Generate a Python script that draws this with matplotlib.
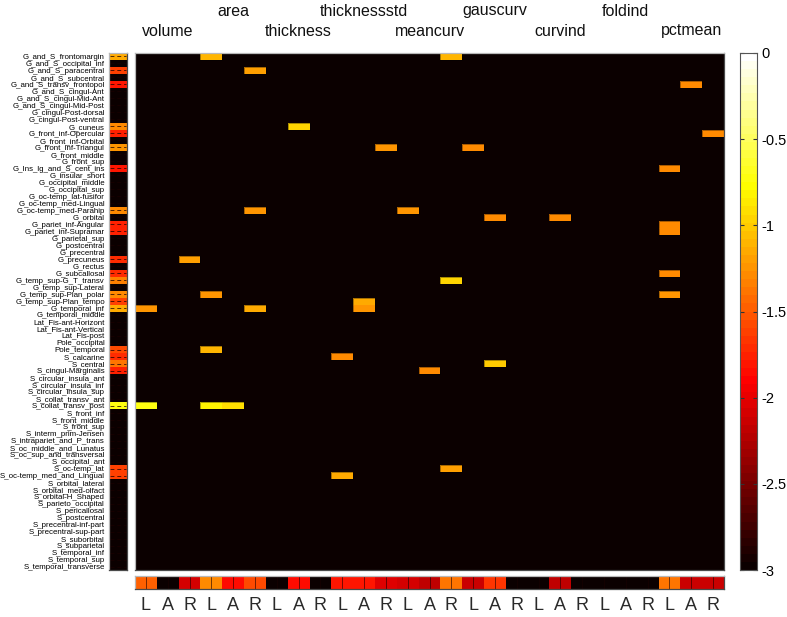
import numpy as np
import matplotlib
matplotlib.use("Agg")
import matplotlib.pyplot as plt
from matplotlib.colors import Normalize
from matplotlib.collections import LineCollection

plt.rcParams['font.family'] = ['Liberation Sans', 'DejaVu Sans']

regions = [
    "G_and_S_frontomargin", "G_and_S_occipital_inf", "G_and_S_paracentral", "G_and_S_subcentral",
    "G_and_S_transv_frontopol", "G_and_S_cingul-Ant", "G_and_S_cingul-Mid-Ant", "G_and_S_cingul-Mid-Post",
    "G_cingul-Post-dorsal", "G_cingul-Post-ventral", "G_cuneus", "G_front_inf-Opercular",
    "G_front_inf-Orbital", "G_front_inf-Triangul", "G_front_middle", "G_front_sup",
    "G_Ins_lg_and_S_cent_ins", "G_insular_short", "G_occipital_middle", "G_occipital_sup",
    "G_oc-temp_lat-fusifor", "G_oc-temp_med-Lingual", "G_oc-temp_med-Parahip", "G_orbital",
    "G_pariet_inf-Angular", "G_pariet_inf-Supramar", "G_parietal_sup", "G_postcentral",
    "G_precentral", "G_precuneus", "G_rectus", "G_subcallosal",
    "G_temp_sup-G_T_transv", "G_temp_sup-Lateral", "G_temp_sup-Plan_polar", "G_temp_sup-Plan_tempo",
    "G_temporal_inf", "G_temporal_middle", "Lat_Fis-ant-Horizont", "Lat_Fis-ant-Vertical",
    "Lat_Fis-post", "Pole_occipital", "Pole_temporal", "S_calcarine",
    "S_central", "S_cingul-Marginalis", "S_circular_insula_ant", "S_circular_insula_inf",
    "S_circular_insula_sup", "S_collat_transv_ant", "S_collat_transv_post", "S_front_inf",
    "S_front_middle", "S_front_sup", "S_interm_prim-Jensen", "S_intrapariet_and_P_trans",
    "S_oc_middle_and_Lunatus", "S_oc_sup_and_transversal", "S_occipital_ant", "S_oc-temp_lat",
    "S_oc-temp_med_and_Lingual", "S_orbital_lateral", "S_orbital_med-olfact", "S_orbital-H_Shaped",
    "S_parieto_occipital", "S_pericallosal", "S_postcentral", "S_precentral-inf-part",
    "S_precentral-sup-part", "S_suborbital", "S_subparietal", "S_temporal_inf",
    "S_temporal_sup", "S_temporal_transverse",
]

measures = ["volume", "area", "thickness", "thicknessstd", "meancurv",
            "gauscurv", "curvind", "foldind", "pctmean"]
hemis = ["L", "A", "R"]

floor_value = -3.0

# significant cells of the main matrix: (row index, column index, value)
hit_rows = [0, 0, 2, 4, 10, 11, 13, 13, 16, 22, 22, 23, 23, 24, 25,
            29, 31, 32, 34, 34, 35, 36, 36, 36, 42, 43, 44, 45, 50, 50, 50, 59, 60]
hit_cols = [3, 14, 5, 25, 7, 26, 11, 15, 24, 5, 12, 16, 19, 24, 24,
            2, 24, 14, 3, 24, 10, 10, 0, 5, 3, 9, 16, 13, 0, 3, 4, 14, 9]
hit_vals = [-1.1, -1.1, -1.2, -1.28, -0.97, -1.28, -1.25, -1.28, -1.28, -1.25, -1.25, -1.28, -1.28, -1.28, -1.28,
            -1.2, -1.28, -0.95, -1.25, -1.22, -1.15, -1.22, -1.25, -1.15, -1.08, -1.28, -1.0, -1.28,
            -0.75, -0.8, -0.9, -1.2, -1.15]

# left summary strip (per region)
row_summary = {0: -1.15, 2: -1.6, 4: -1.8, 10: -1.3, 11: -1.75, 13: -1.25, 16: -1.8,
               22: -1.3, 24: -1.75, 25: -1.75, 29: -1.7, 31: -1.7, 32: -1.35, 34: -1.3,
               35: -1.6, 36: -1.15, 42: -1.55, 43: -1.7, 44: -1.4, 45: -1.75, 50: -0.75,
               59: -1.6, 60: -1.6}

# bottom summary strip (per measure/hemisphere column)
col_summary = [-1.5, -3, -2.1, -1.3, -1.85, -1.55, -3, -1.85, -3,
               -1.8, -1.8, -2.05, -2.1, -2.2, -1.4, -2.15, -1.65, -3,
               -3, -2.2, -3, -3, -3, -3, -1.4, -2.15, -2.15]

cbar_ticks = [0, -0.5, -1, -1.5, -2, -2.5, -3]
cbar_labels = ["0", "-0.5", "-1", "-1.5", "-2", "-2.5", "-3"]

nrow = len(regions)
ncol = len(measures) * len(hemis)

M = np.full((nrow, ncol), floor_value)
for r, c, v in zip(hit_rows, hit_cols, hit_vals):
    M[r, c] = v
left = np.full((nrow, 1), floor_value)
for r, v in row_summary.items():
    left[r, 0] = v
bottom = np.array(col_summary).reshape(1, ncol)

cmap = plt.get_cmap('hot', 64)
norm = Normalize(vmin=-3, vmax=0)

W, H = 787, 617
fig = plt.figure(figsize=(W / 100, H / 100), dpi=100)

def fa(x0, y0, x1, y1):
    return fig.add_axes([x0 / W, 1 - y1 / H, (x1 - x0) / W, (y1 - y0) / H])

def style_spines(ax):
    for s in ['top', 'left']:
        ax.spines[s].set_color('#b8b8b8')
        ax.spines[s].set_linewidth(0.9)
    for s in ['bottom', 'right']:
        ax.spines[s].set_color('#4a4a4a')
        ax.spines[s].set_linewidth(0.9)

# main heatmap
ax = fa(135, 53, 724, 570)
ax.pcolormesh(np.arange(ncol + 1), np.arange(nrow + 1), M, cmap=cmap, norm=norm)
# darker outline where a significant cell meets the background
segs = []
for r, c in zip(hit_rows, hit_cols):
    if r == 0 or M[r - 1, c] <= floor_value:
        segs.append([(c, r), (c + 1, r)])
    if r == nrow - 1 or M[r + 1, c] <= floor_value:
        segs.append([(c, r + 1), (c + 1, r + 1)])
    if c == 0 or M[r, c - 1] <= floor_value:
        segs.append([(c, r), (c, r + 1)])
    if c == ncol - 1 or M[r, c + 1] <= floor_value:
        segs.append([(c + 1, r), (c + 1, r + 1)])
ax.add_collection(LineCollection(segs, colors=[(0, 0, 0, 0.35)], linewidths=0.7))
ax.set_xlim(0, ncol)
ax.set_ylim(nrow, 0)
ax.set_xticks([])
ax.set_yticks([])
style_spines(ax)

# measure labels on top (staggered)
for k, m in enumerate(measures):
    xc = 135 + (589 / ncol) * (3 * k + 1.5)
    yc = 31 if k % 2 == 0 else 11
    fig.text(xc / W, 1 - yc / H, m, ha='center', va='center', fontsize=11.5, color='#111111')

# left strip
axl = fa(109, 53, 127, 570)
axl.pcolormesh([0, 1], np.arange(nrow + 1), left, cmap=cmap, norm=norm)
axl.hlines(np.arange(nrow) + 0.5, 0.08, 0.92, colors=(0.1, 0, 0, 0.75),
           linewidth=0.7, linestyles=(0, (4, 3)))
axl.set_xlim(0, 1)
axl.set_ylim(nrow, 0)
axl.set_xticks([])
axl.set_yticks(np.arange(nrow) + 0.5)
axl.set_yticklabels(regions, fontsize=5.7)
axl.tick_params(axis='y', length=0, pad=3)
style_spines(axl)

# bottom strip
axb = fa(135, 576, 724, 589)
axb.pcolormesh(np.arange(ncol + 1), [0, 1], bottom, cmap=cmap, norm=norm)
axb.vlines(np.arange(ncol) + 0.5, 0, 1, colors=(0.1, 0, 0, 0.6), linewidth=0.7)
axb.set_xlim(0, ncol)
axb.set_ylim(0, 1)
axb.set_yticks([])
axb.set_xticks([])
style_spines(axb)
for j in range(ncol):
    xc = 135 + (589 / ncol) * (j + 0.5)
    fig.text(xc / W, 1 - 606 / H, hemis[j % 3], ha='center', va='center',
             fontsize=13, color='#2a2a2a')

# colorbar
cax = fa(740, 53, 757, 570)
levels = np.linspace(-3, 0, 65)
cax.pcolormesh([0, 1], levels, ((levels[:-1] + levels[1:]) / 2).reshape(-1, 1),
               cmap=cmap, norm=norm)
cax.set_xlim(0, 1)
cax.set_ylim(-3, 0)
cax.set_xticks([])
cax.yaxis.tick_right()
cax.set_yticks(cbar_ticks)
cax.set_yticklabels(cbar_labels, fontsize=10.5)
cax.tick_params(axis='y', direction='in', length=3, width=0.8, color='#333333',
                left=True, right=True, pad=3)
for s in cax.spines.values():
    s.set_color('#555555')
    s.set_linewidth(0.8)

fig.savefig('out.png', dpi=100)
